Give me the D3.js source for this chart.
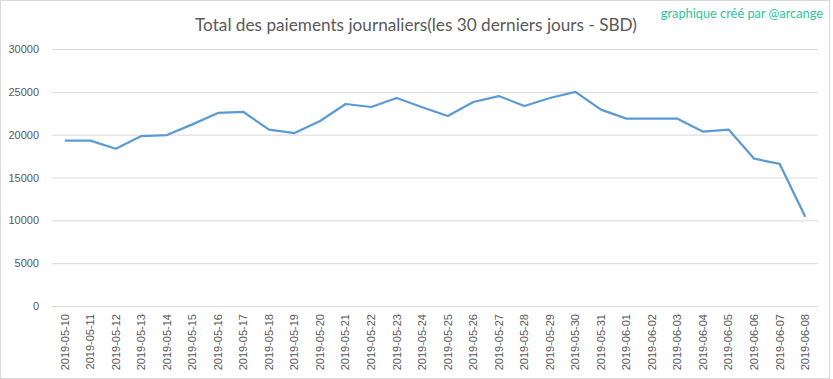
<!DOCTYPE html>
<html>
<head>
<meta charset="utf-8">
<script src="https://cdn.jsdelivr.net/npm/d3@7"></script>
<style>
  body { margin: 0; background: #fff; }
  text { font-family: "Liberation Sans", Arial, sans-serif; }
  .title, .credit { font-family: Lato, "Liberation Sans", sans-serif; }
</style>
</head>
<body>
<svg id="chart"></svg>
<script>
var dates = ["2019-05-10","2019-05-11","2019-05-12","2019-05-13","2019-05-14","2019-05-15",
  "2019-05-16","2019-05-17","2019-05-18","2019-05-19","2019-05-20","2019-05-21","2019-05-22",
  "2019-05-23","2019-05-24","2019-05-25","2019-05-26","2019-05-27","2019-05-28","2019-05-29",
  "2019-05-30","2019-05-31","2019-06-01","2019-06-02","2019-06-03","2019-06-04","2019-06-05",
  "2019-06-06","2019-06-07","2019-06-08"];
var payouts = [19300, 19300, 18360, 19840, 19960, 21200, 22530, 22650, 20580, 20190,
  21600, 23580, 23230, 24280, 23200, 22180, 23810, 24510, 23350, 24280,
  25000, 22920, 21870, 21870, 21870, 20350, 20590, 17200, 16580, 10430];
var yTicks = [0, 5000, 10000, 15000, 20000, 25000, 30000];
var title = "Total des paiements journaliers(les 30 derniers jours - SBD)";
var credit = "graphique créé par @arcange";

var full_width = 833, full_height = 379;
var margin = {top: 49, right: 15, bottom: 73, left: 52},
    width = full_width - margin.left - margin.right,
    height = full_height - margin.top - margin.bottom;

var svg = d3.select("#chart")
    .attr("width", full_width)
    .attr("height", full_height);

// outer frame
svg.append("rect")
  .attr("x", 0.5).attr("y", 0.5)
  .attr("width", 829).attr("height", 378)
  .attr("fill", "#fff")
  .attr("stroke", "#d9d9d9");

var g = svg.append("g").attr("transform", "translate(" + margin.left + "," + margin.top + ")");

var x = d3.scaleBand()
  .domain(dates)
  .range([0, width]);

var y = d3.scaleLinear()
  .domain([0, 30000])
  .range([height, 0]);

// gridlines + y labels
var y_axis = g.append("g")
  .attr("class", "y-axis")
  .call(d3.axisLeft(y).tickValues(yTicks).tickSize(-width).tickFormat(d3.format("d")));
y_axis.select(".domain").remove();
y_axis.selectAll("line").attr("stroke", "#d9d9d9");
y_axis.selectAll("text")
  .attr("x", -13)
  .attr("fill", "#595959")
  .style("font-size", "11px");

// x labels, rotated
var x_axis = g.append("g")
  .attr("class", "x-axis")
  .attr("transform", "translate(0," + height + ")")
  .call(d3.axisBottom(x).tickSize(0));
x_axis.select(".domain").remove();
x_axis.selectAll("text")
  .attr("fill", "#595959")
  .style("font-size", "11px")
  .attr("text-anchor", "end")
  .attr("transform", "rotate(-90)")
  .attr("x", -8)
  .attr("y", 0)
  .attr("dy", "0.35em");

// line
var line = d3.line()
  .x(function(d, i) { return x(dates[i]) + x.bandwidth() / 2; })
  .y(function(d) { return y(d); });

g.append("path")
  .datum(payouts)
  .attr("fill", "none")
  .attr("stroke", "#5b9bd5")
  .attr("stroke-width", 2.25)
  .attr("stroke-linejoin", "round")
  .attr("d", line);

svg.append("text")
  .attr("class", "title")
  .attr("x", 416)
  .attr("y", 31)
  .attr("text-anchor", "middle")
  .attr("fill", "#595959")
  .style("font-size", "17.2px")
  .text(title);

svg.append("text")
  .attr("class", "credit")
  .attr("x", 823)
  .attr("y", 18)
  .attr("text-anchor", "end")
  .attr("fill", "#2cc5a0")
  .style("font-size", "12.8px")
  .text(credit);
</script>
</body>
</html>
